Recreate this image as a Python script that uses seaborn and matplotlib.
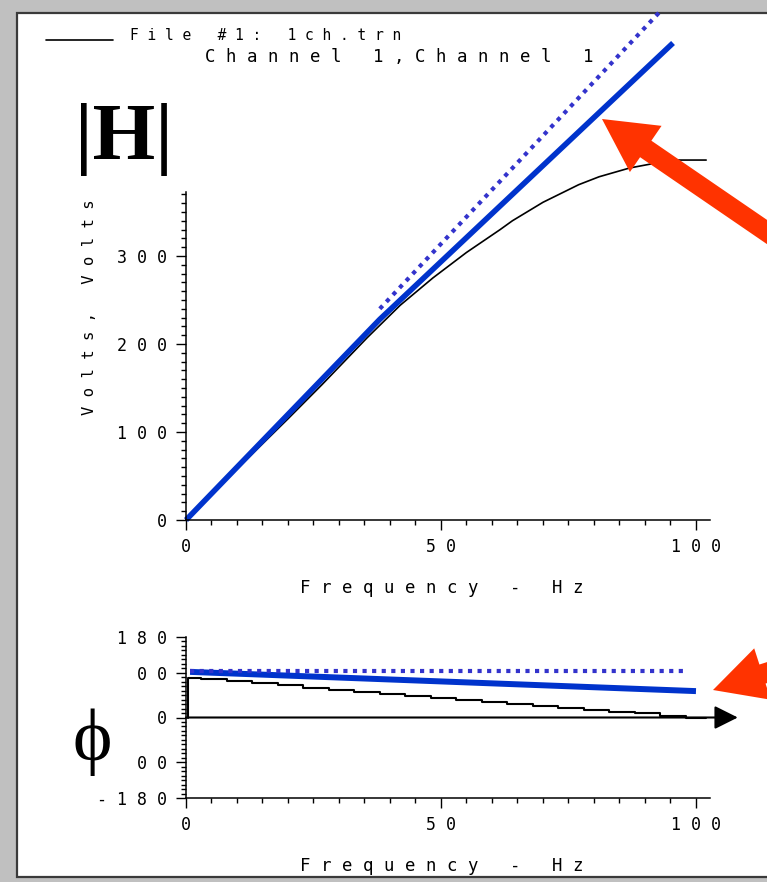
import matplotlib
matplotlib.use("Agg")
import matplotlib.pyplot as plt
import matplotlib.patches as mpatches
from matplotlib.lines import Line2D
from matplotlib.transforms import IdentityTransform
from matplotlib.ticker import FixedLocator, FixedFormatter, MultipleLocator
import numpy as np
import seaborn as sns

# --- data ---
# magnitude |H| in volts vs frequency (measured curve)
mag_freq = [0, 10, 20, 26.7, 35.5, 42, 48.4, 55, 61.6, 64, 70, 77, 81, 87, 91.6, 96, 102]
mag_volts = [0, 58, 115, 154, 207, 244, 275, 304, 330, 340, 361, 381, 390, 400, 405, 409, 409]
# hand drawn lines on top of the magnitude plot
fit_freq = [0, 38, 95.5]
fit_volts = [0, 228, 542]
ideal_freq = [38, 93]
ideal_volts = [240, 578]

# phase in degrees (measured, stair-stepped)
phase_freq = [0.4, 0.4, 3, 8, 13, 18, 23, 28, 33, 38, 43, 48, 53, 58, 63, 68, 73, 78, 83, 88, 93, 98, 102]
phase_deg = [0, 88, 85, 81, 77, 72, 67, 62, 58, 53, 49, 44, 40, 35, 31, 26, 22, 17, 13, 9, 4, -1, -1]
phase_fit_freq = [0.8, 100]
phase_fit_deg = [102, 59]
phase_ideal_freq = [0.8, 97.5]
phase_ideal_deg = [103, 103]

# tick labels (the old plotter spaces its characters out)
mag_ticks = [0, 100, 200, 300]
mag_labels = ["0", "1 0 0", "2 0 0", "3 0 0"]
freq_ticks = [0, 50, 100]
freq_labels = ["0", "5 0", "1 0 0"]
phase_ticks = [-180, -100, 0, 100, 180]
phase_labels = ["- 1 8 0", "- 1 0 0", "0", "1 0 0", "1 8 0"]

W, H = 767, 882
BLUE = "#0033cc"
DOT_BLUE = "#3333cc"
RED = "#ff3300"


def fx(px):
    return px / W


def fy(py):
    return (H - py) / H


sns.set_style("white")
plt.rcParams["font.family"] = ["DejaVu Sans Mono", "DejaVu Sans"]
plt.rcParams["text.color"] = "black"
plt.rcParams["axes.labelcolor"] = "black"

fig = plt.figure(figsize=(W / 100, H / 100), dpi=100)
fig.patch.set_facecolor("#c0c0c0")
fig.add_artist(mpatches.Rectangle((fx(17), fy(877)), (W - 7) / W, (877 - 13) / H,
                                  transform=fig.transFigure, facecolor="white",
                                  edgecolor="#3a3a3a", lw=1.6, zorder=-1))


def style_axis(ax):
    ax.patch.set_visible(False)
    ax.spines[["top", "right"]].set_visible(False)
    for s in ("left", "bottom"):
        ax.spines[s].set_linewidth(1.1)
        ax.spines[s].set_color("black")
    ax.tick_params(which="both", direction="out", bottom=True, left=True,
                   colors="black", labelcolor="black", width=1.0, labelsize=12)
    ax.tick_params(which="major", length=7)
    ax.tick_params(which="minor", length=3.5)
    ax.tick_params(axis="x", which="major", pad=6)
    ax.tick_params(axis="y", which="major", pad=7)
    ax.xaxis.set_major_locator(FixedLocator(freq_ticks))
    ax.xaxis.set_major_formatter(FixedFormatter(freq_labels))
    ax.xaxis.set_minor_locator(MultipleLocator(5))
    ax.set_xlim(0, 102.75)


# ---- magnitude ----
ax1 = fig.add_axes([fx(186), fy(520), 524 / W, 510 / H])
sns.lineplot(x=mag_freq, y=mag_volts, ax=ax1, color="black", lw=1.2,
             estimator=None, sort=False, clip_on=False)
sns.lineplot(x=fit_freq, y=fit_volts, ax=ax1, color=BLUE, lw=4,
             estimator=None, sort=False, clip_on=False, solid_capstyle="butt")
sns.lineplot(x=ideal_freq, y=ideal_volts, ax=ax1, color=DOT_BLUE, lw=3,
             linestyle=(0, (1, 1.3)), dash_capstyle="butt",
             estimator=None, sort=False, clip_on=False)
style_axis(ax1)
ax1.set_ylim(0, 579.5)
ax1.spines["left"].set_bounds(0, 373)
ax1.yaxis.set_major_locator(FixedLocator(mag_ticks))
ax1.yaxis.set_major_formatter(FixedFormatter(mag_labels))
ax1.yaxis.set_minor_locator(FixedLocator(np.arange(0, 371, 10)))
ax1.set_xlabel("F r e q u e n c y   -   H z", fontsize=12.5, va="center")
ax1.xaxis.set_label_coords((442 - 186) / 524, (520 - 588) / 510)
ax1.set_ylabel("V o l t s ,   V o l t s", fontsize=11.2, va="center")
ax1.yaxis.set_label_coords((90 - 186) / 524, (520 - 307) / 510)

# ---- phase ----
ax2 = fig.add_axes([fx(186), fy(798), 524 / W, 161 / H])
sns.lineplot(x=phase_freq, y=phase_deg, ax=ax2, color="black", lw=1.5,
             drawstyle="steps-post", estimator=None, sort=False, clip_on=False)
sns.lineplot(x=phase_fit_freq, y=phase_fit_deg, ax=ax2, color=BLUE, lw=4.3,
             estimator=None, sort=False, solid_capstyle="butt")
sns.lineplot(x=phase_ideal_freq, y=phase_ideal_deg, ax=ax2, color=DOT_BLUE, lw=3,
             linestyle=(0, (1, 1.3)), dash_capstyle="butt",
             estimator=None, sort=False)
style_axis(ax2)
ax2.set_ylim(-180, 180)
ax2.yaxis.set_major_locator(FixedLocator(phase_ticks))
ax2.yaxis.set_major_formatter(FixedFormatter(phase_labels))
ax2.yaxis.set_minor_locator(MultipleLocator(10))
ax2.set_xlabel("F r e q u e n c y   -   H z", fontsize=12.5, va="center")
ax2.xaxis.set_label_coords((442 - 186) / 524, (798 - 866) / 161)
ax2.annotate("", xy=(108.2, 0), xytext=(0, 0), annotation_clip=False,
             arrowprops=dict(arrowstyle="-|>", color="black", lw=1.5,
                             mutation_scale=36, shrinkA=0, shrinkB=0))

# ---- header text ----
fig.add_artist(Line2D([fx(46), fx(113)], [fy(40), fy(40)], transform=fig.transFigure,
                      color="black", lw=1.2))
fig.text(fx(130), fy(35), "F i l e   # 1 :   1 c h . t r n", fontsize=10.5,
         ha="left", va="center")
fig.text(fx(205), fy(57), "C h a n n e l   1 , C h a n n e l   1", fontsize=12.5,
         ha="left", va="center")

# big symbols pasted on the slide
fig.text(fx(124), fy(139), "|H|", family="Liberation Serif", weight="bold",
         fontsize=58, ha="center", va="center", color="black")
fig.add_artist(mpatches.Rectangle((fx(58), fy(792)), 73 / W, 140 / H,
                                  transform=fig.transFigure, facecolor="white",
                                  edgecolor="none", zorder=2))
fig.text(fx(92), fy(742), "ϕ", family=["Liberation Serif", "DejaVu Serif"],
         fontsize=54, ha="center", va="center", color="black", zorder=3)


# red pointer arrows (pixel coordinates, y measured from the top)
def red_arrow(tail, tip, width=20, head_width=56, head_length=53):
    x0, y0 = tail
    x1, y1 = tip
    arr = mpatches.FancyArrow(x0, H - y0, x1 - x0, y0 - y1, width=width,
                              head_width=head_width, head_length=head_length,
                              length_includes_head=True, color=RED, lw=0,
                              transform=IdentityTransform(), zorder=4)
    fig.add_artist(arr)


red_arrow((840, 282), (602, 119))
red_arrow((865, 641), (713, 690), head_width=54, head_length=52)

fig.savefig("out.png", dpi=100, facecolor=fig.get_facecolor())
